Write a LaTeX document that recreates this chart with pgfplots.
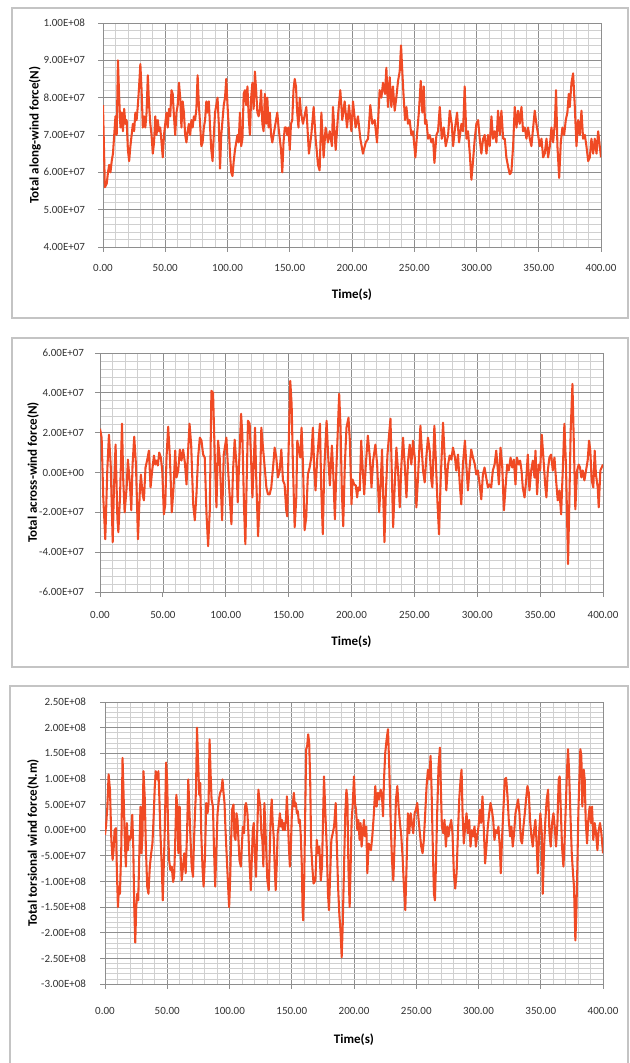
\documentclass[border=0pt]{standalone}
\usepackage{fontspec}
\setmainfont{Carlito}
\usepackage{pgfplots}
\pgfplotsset{compat=1.18}
\definecolor{lineor}{HTML}{F04A24}
\definecolor{majg}{HTML}{8E8E8E}
\definecolor{ming}{HTML}{D0D0D0}
\definecolor{frameg}{HTML}{C4C4C4}
\definecolor{labg}{HTML}{333333}
\pgfplotsset{
  exc/.style={
    scale only axis,
    anchor=south west,
    xmin=0, xmax=400,
    xtick={0,50,100,150,200,250,300,350,400},
    xticklabels={0.00,50.00,100.00,150.00,200.00,250.00,300.00,350.00,400.00},
    scaled x ticks=false, scaled y ticks=false,
    minor x tick num=4,
    minor y tick num=4,
    grid=both,
    major grid style={majg, line width=0.55pt},
    minor grid style={ming, line width=0.5pt},
    axis line style={majg, line width=0.6pt},
    tick style={majg, line width=0.6pt},
    major tick length=3.5pt,
    minor tick length=0pt,
    tick align=outside,
    tick pos=left,
    tick label style={font=\fontsize{8.25}{10}\selectfont, text=labg, inner sep=0pt},
    yticklabel style={anchor=east, xshift=-9.75pt},
    label style={font=\bfseries\fontsize{9.75}{12}\selectfont, text=black},
  },
  ser/.style={color=lineor, line width=1.55pt, line join=round, mark=none, solid},
}
\begin{document}
\begin{tikzpicture}[x=0.75pt,y=0.75pt]
\useasboundingbox (0,0) rectangle (629,1063);
\clip (0,0) rectangle (629,1063);
\fill[white] (0,0) rectangle (629,1063);
\draw[frameg, line width=1pt] (12,745) rectangle (628,1055);
\draw[frameg, line width=1pt] (12,396) rectangle (628,725);
\draw[frameg, line width=1pt] (10,-7) rectangle (628,377);

% ---------------- Along-wind ----------------
\begin{axis}[exc, at={(77.25pt,612pt)},
  width=373.5pt, height=168pt,
  ymin=4e7, ymax=1e8,
  ytick={4e7,5e7,6e7,7e7,8e7,9e7,1e8},
  yticklabels={4.00E+07,5.00E+07,6.00E+07,7.00E+07,8.00E+07,9.00E+07,1.00E+08},
  xticklabel style={anchor=center, yshift=-12.5pt},
  xlabel={Time(s)}, ylabel={Total along-wind force(N)},
  xlabel style={at={(axis description cs:0.5,-0.214)}, anchor=center},
  ylabel style={at={(axis description cs:-0.1365,0.5)}, anchor=center},
]
\addplot[ser] table {
0 7.8e7
1.5 5.6e7
3 5.7e7
4 6.0e7
5 6.2e7
6 6.0e7
7 6.3e7
8 6.5e7
9 7.0e7
10 7.5e7
11 7.0e7
12 9.0e7
13 8.0e7
14 7.2e7
15 7.6e7
16 7.1e7
17 7.7e7
18 7.3e7
19 7.4e7
20 6.6e7
21 6.3e7
22 6.7e7
23 7.0e7
24 7.3e7
25 7.1e7
26 7.6e7
27 7.4e7
28 7.8e7
29 8.3e7
30 8.9e7
31 8.2e7
32 7.2e7
33 7.5e7
34 7.2e7
35 7.6e7
36 8.6e7
37 7.8e7
38 7.3e7
39 7.0e7
40 6.5e7
41 6.8e7
42 7.5e7
43 7.0e7
44 7.4e7
45 7.1e7
46 7.2e7
47 6.8e7
48 6.4e7
49 7.0e7
50 7.3e7
51 7.6e7
52 7.2e7
53 7.7e7
54 7.5e7
55 8.2e7
56 8.1e7
57 7.5e7
58 7.0e7
59 7.6e7
60 7.8e7
61 8.4e7
62 8.0e7
63 7.2e7
64 7.9e7
65 7.6e7
66 7.0e7
67 6.8e7
68 7.1e7
69 7.3e7
70 7.0e7
71 7.4e7
72 7.2e7
73 7.5e7
74 7.4e7
75 7.7e7
76 8.6e7
77 7.8e7
78 7.3e7
79 6.7e7
80 6.8e7
81 7.2e7
82 7.4e7
83 7.9e7
84 7.6e7
85 7.9e7
86 7.2e7
87 6.6e7
88 6.3e7
89 7.0e7
90 7.6e7
91 7.8e7
92 8.0e7
93 7.3e7
94 6.1e7
95 7.0e7
96 7.4e7
97 7.8e7
98 8.0e7
99 8.5e7
100 7.8e7
101 7.2e7
102 6.5e7
103 6.0e7
104 5.9e7
105 6.3e7
106 6.6e7
107 6.8e7
108 7.0e7
109 6.8e7
110 7.6e7
111 6.7e7
112 6.9e7
113 8.1e7
114 8.2e7
115 7.8e7
116 8.3e7
117 7.5e7
118 7.0e7
119 8.0e7
120 8.4e7
121 7.7e7
122 8.7e7
123 8.2e7
124 7.6e7
125 7.5e7
126 7.7e7
127 8.2e7
128 7.3e7
129 7.1e7
130 8.1e7
131 7.3e7
132 8.0e7
133 7.2e7
134 7.6e7
135 7.0e7
136 6.8e7
137 7.0e7
138 7.2e7
139 7.4e7
140 7.6e7
141 7.2e7
142 6.9e7
143 6.6e7
144 6.0e7
145 6.8e7
146 7.2e7
147 7.2e7
148 7.0e7
149 7.2e7
150 6.6e7
151 7.3e7
152 7.4e7
153 8.2e7
154 8.5e7
155 8.3e7
156 7.6e7
157 7.2e7
158 8.0e7
159 7.6e7
160.6 7.3e7
163.3 7.75e7
165.4 6.5e7
167.3 7.0e7
169.2 7.75e7
170.8 6.9e7
172.7 6.2e7
174.0 6.05e7
175.4 7.6e7
177.2 6.4e7
178.8 7.2e7
180.7 6.8e7
182.1 7.1e7
183.9 6.7e7
184.7 7.75e7
186.9 6.6e7
188.7 7.5e7
190.6 8.2e7
192.2 7.4e7
194.1 7.9e7
196.0 7.2e7
197.6 7.8e7
199.5 7.1e7
200.8 7.9e7
202.9 7.2e7
204.8 7.5e7
206.7 6.9e7
208.8 6.5e7
211.0 6.8e7
212.9 6.9e7
214.7 7.8e7
216.3 7.3e7
218.2 7.4e7
220.1 6.8e7
222.2 8.2e7
223.6 8.0e7
224.9 8.4e7
226.5 8.1e7
227.6 8.8e7
228.9 7.75e7
230.3 8.55e7
231.6 7.75e7
232.9 8.3e7
234.3 7.65e7
235.6 8.0e7
237.0 8.45e7
238.3 8.7e7
239.4 9.4e7
240.4 8.7e7
241.5 8.0e7
242.6 7.4e7
243.7 7.75e7
245.0 7.3e7
246.3 7.4e7
247.7 7.0e7
249.0 7.1e7
250.9 6.4e7
252.2 7.0e7
253.8 7.65e7
255.2 8.45e7
256.5 7.6e7
257.6 8.3e7
258.7 7.3e7
259.7 7.4e7
261.1 6.9e7
262.4 7.0e7
263.8 6.8e7
265.1 6.9e7
266.2 6.25e7
267.8 7.0e7
269.1 7.1e7
270.5 7.75e7
272.1 6.9e7
273.7 7.2e7
275.3 6.7e7
277.2 7.0e7
278.5 7.65e7
280.1 7.3e7
281.2 6.7e7
282.8 7.2e7
284.4 7.6e7
286.0 6.8e7
287.9 7.3e7
289.2 7.1e7
290.5 8.3e7
291.9 6.9e7
293.2 7.1e7
294.6 6.5e7
295.9 5.8e7
297.2 6.3e7
298.6 6.9e7
299.9 7.3e7
301.3 7.4e7
302.6 6.9e7
303.9 6.5e7
305.3 6.9e7
306.6 7.0e7
308.0 6.5e7
309.3 7.0e7
310.6 6.7e7
312.0 7.5e7
313.3 6.9e7
314.7 7.1e7
316.0 6.8e7
317.3 7.65e7
318.7 7.0e7
320.0 7.65e7
321.4 6.9e7
322.7 6.9e7
324.0 6.4e7
325.4 6.15e7
326.7 5.95e7
328.0 6.0e7
329.4 6.7e7
330.7 7.75e7
332.1 7.2e7
333.4 7.65e7
334.7 7.3e7
336.1 7.75e7
337.4 7.1e7
338.8 7.2e7
340.1 6.9e7
341.4 7.2e7
342.8 6.9e7
344.1 6.7e7
345.5 7.2e7
346.8 7.65e7
348.1 7.3e7
349.5 7.0e7
350.8 6.7e7
352.2 6.9e7
353.5 6.4e7
354.8 6.5e7
356.2 6.9e7
357.5 6.4e7
358.9 6.7e7
360.2 7.2e7
361.5 6.8e7
362.9 7.3e7
363.9 8.2e7
365.0 6.7e7
366.4 5.85e7
367.7 6.8e7
369.0 7.2e7
370.4 7.0e7
371.7 7.4e7
373.0 7.6e7
374.1 8.1e7
374.9 7.75e7
376.3 8.4e7
377.6 8.65e7
378.9 7.8e7
380.3 6.7e7
381.6 7.4e7
383.0 7.0e7
384.3 7.65e7
385.6 6.9e7
387.0 7.0e7
388.3 6.7e7
389.7 6.3e7
391.0 6.4e7
392.3 6.9e7
393.7 6.5e7
395.0 6.9e7
396.4 6.5e7
397.7 7.1e7
399.0 6.7e7
400 6.4e7
};
\end{axis}

% ---------------- Across-wind ----------------
\begin{axis}[exc, at={(75pt,353.25pt)},
  width=377.25pt, height=179.25pt,
  ymin=-6e7, ymax=6e7,
  ytick={-6e7,-4e7,-2e7,0,2e7,4e7,6e7},
  yticklabels={-6.00E+07,-4.00E+07,-2.00E+07,0.00E+00,2.00E+07,4.00E+07,6.00E+07},
  yticklabel style={xshift=1.5pt},
  xticklabel style={anchor=center, yshift=-13.5pt},
  xlabel={Time(s)}, ylabel={Total across-wind force(N)},
  xlabel style={at={(axis description cs:0.5,-0.208)}, anchor=center},
  ylabel style={at={(axis description cs:-0.1332,0.5)}, anchor=center},
]
\addplot[ser] table {
0 2.2e7
1.3 1.75e7
2.6 -1.25e7
4.2 -3.35e7
5.8 0.1e7
7.1 1.9e7
8.5 0.4e7
10.1 -3.5e7
11.1 -0.75e7
12.4 1.4e7
13.8 -2.25e7
14.6 -3.0e7
15.9 -1.25e7
17.5 2.45e7
18.5 -0.4e7
19.6 -2.0e7
21.2 -0.75e7
22.2 0.65e7
23.8 -0.6e7
24.9 -1.9e7
25.9 0.4e7
27.2 1.8e7
28.6 0.4e7
30.2 -3.35e7
31.7 -0.9e7
32.5 -0.1e7
33.9 -1.1e7
34.9 -1.4e7
36.2 0.25e7
37.6 0.65e7
38.9 1.1e7
40.2 -0.75e7
41.5 0.1e7
42.9 0.85e7
43.9 0.4e7
45.0 0.6e7
46.0 0.35e7
47.1 1.0e7
48.4 0.75e7
49.5 0.1e7
50.8 -2.1e7
51.9 -1.6e7
52.9 0.75e7
54.2 2.3e7
55.6 0.75e7
57.1 -2.0e7
58.5 -0.75e7
59.8 1.1e7
60.8 -0.25e7
62.2 0.1e7
63.5 1.15e7
64.8 0.6e7
66.1 1.15e7
67.5 0.5e7
68.8 -0.6e7
69.8 0.75e7
71.2 2.45e7
72.5 1.4e7
74.1 -1.6e7
75.4 -2.4e7
76.7 -1.1e7
78.0 0.75e7
79.4 1.75e7
80.7 1.6e7
82.0 0.9e7
83.3 0.75e7
84.7 -2.1e7
86.0 -3.7e7
87.3 -1.9e7
88.6 4.1e7
89.9 4.0e7
91.3 0.75e7
92.6 -1.75e7
93.9 1.6e7
95.2 0.75e7
97.1 -2.4e7
98.4 0.9e7
100.5 1.75e7
101.9 0.1e7
103.2 -1.25e7
104.5 -2.6e7
105.8 0.1e7
107.1 1.65e7
108.5 0.4e7
109.5 -1.5e7
110.6 0.4e7
112.2 2.95e7
113.2 1.9e7
114.6 -1.9e7
115.6 -3.6e7
116.7 -0.25e7
117.7 2.6e7
119.0 2.45e7
120.1 0.75e7
121.2 -1.25e7
122.2 0.4e7
123.3 2.25e7
124.3 -0.4e7
125.7 -3.2e7
127.0 -1.25e7
128.3 2.25e7
129.6 1.25e7
131.0 0.25e7
132.3 -0.75e7
133.6 -1.1e7
134.9 -1.1e7
136.2 -0.75e7
137.6 0.25e7
138.9 1.25e7
140.2 0.75e7
141.5 -0.25e7
142.9 0.1e7
144.2 1.15e7
145.5 -0.4e7
146.8 -0.6e7
148.1 -1.9e7
148.9 -2.2e7
149.7 0.4e7
151.3 4.6e7
152.4 3.4e7
153.4 0.4e7
154.8 -2.75e7
156.1 -1.25e7
156.9 1.6e7
158.2 1.15e7
159.3 0.75e7
160.3 2.25e7
161.4 0.4e7
162.7 -2.9e7
164.0 -2.25e7
165.3 -0.1e7
166.7 0.25e7
168.0 0.75e7
169.3 2.25e7
170.4 0.1e7
171.4 -0.9e7
172.8 0.75e7
174.9 2.45e7
175.9 -0.75e7
177.2 -3.1e7
178.3 0.1e7
180.2 2.6e7
181.5 0.75e7
182.8 -0.65e7
184.4 1.35e7
185.4 0.1e7
186.8 -2.35e7
188.1 0.4e7
190.2 3.95e7
191.3 2.25e7
192.3 -0.9e7
193.4 -2.7e7
194.7 0.4e7
196.0 2.25e7
197.6 2.75e7
198.7 1.6e7
200.0 -1.6e7
200.8 -0.35e7
202.1 -0.6e7
203.4 -0.65e7
204.5 -1.25e7
205.3 -0.75e7
206.6 -0.9e7
207.7 1.6e7
208.7 0.4e7
210.1 -1.1e7
211.4 0.4e7
213.0 1.85e7
214.6 0.75e7
215.9 -0.75e7
217.2 0.6e7
219.0 1.4e7
220.4 0.4e7
222.0 -2.0e7
223.3 -0.4e7
224.3 1.15e7
225.1 -0.9e7
226.2 -3.5e7
227.2 -1.25e7
228.6 0.9e7
229.9 1.9e7
231.0 2.7e7
232.0 0.1e7
233.1 -2.75e7
234.4 -0.6e7
235.7 1.25e7
237.0 0.1e7
238.4 -1.75e7
239.7 0.4e7
241.0 1.75e7
242.3 0.4e7
243.7 -1.25e7
245.0 0.6e7
246.3 1.4e7
247.6 0.4e7
248.9 1.6e7
250.3 0.75e7
251.6 -1.75e7
252.9 -0.25e7
254.8 2.35e7
255.8 1.25e7
256.9 0.1e7
258.2 -0.5e7
259.5 0.75e7
260.8 1.75e7
262.2 1.1e7
263.5 -0.4e7
264.3 -0.75e7
265.9 2.35e7
266.9 0.9e7
268.3 -1.4e7
269.6 -3.1e7
270.9 -0.4e7
272.8 2.5e7
274.1 0.75e7
275.4 -0.9e7
276.7 0.35e7
278.0 0.85e7
279.4 0.65e7
280.7 1.25e7
282.3 0.75e7
283.3 0.1e7
284.7 0.9e7
286.0 -0.5e7
287.3 -1.6e7
288.6 0.4e7
290.2 1.6e7
291.3 0.4e7
292.6 -0.9e7
293.9 0.25e7
295.2 1.15e7
296.6 0.75e7
298.1 0.4e7
299.2 -0.1e7
300.5 0.1e7
301.9 -0.6e7
303.2 -1.35e7
304.5 -0.1e7
305.8 0.25e7
307.1 -0.25e7
308.5 -0.75e7
309.8 -0.6e7
311.1 -0.75e7
312.4 0.1e7
313.8 0.4e7
315.1 1.1e7
316.4 0.1e7
317.2 -0.6e7
318.5 1.25e7
319.8 0.4e7
321.2 -1.9e7
322.5 -0.75e7
323.8 0.4e7
325.1 0.1e7
326.5 0.75e7
327.8 0.25e7
329.1 0.65e7
330.4 -0.6e7
331.5 0.75e7
333.1 0.4e7
334.1 0.6e7
335.2 0.1e7
336.2 -0.75e7
337.6 -1.25e7
338.9 -0.4e7
340.2 0.9e7
341.5 -0.9e7
342.9 0.1e7
344.2 0.6e7
345.5 -0.25e7
346.3 1.1e7
347.6 -1.1e7
348.9 0.4e7
350.0 0.1e7
351.3 1.9e7
352.6 0.75e7
354.0 -0.6e7
355.0 -1.25e7
356.1 0.1e7
357.4 0.75e7
358.7 0.9e7
360.1 0.1e7
361.4 0.75e7
362.7 -0.4e7
364.0 -1.4e7
365.3 -0.9e7
366.7 -2.1e7
368.0 0.1e7
369.3 2.45e7
370.6 0.25e7
372.2 -4.6e7
373.3 -1.25e7
374.3 2.1e7
375.7 4.45e7
376.7 1.75e7
378.0 -1.85e7
379.4 0.1e7
380.7 0.4e7
381.7 0.25e7
382.8 -0.25e7
383.9 0.1e7
385.2 -0.4e7
386.5 0.1e7
387.8 0.6e7
388.9 1.6e7
389.9 1.1e7
391.0 -0.4e7
392.3 -0.75e7
393.4 1.1e7
394.4 -0.1e7
395.8 -0.75e7
396.6 -1.75e7
397.9 0.1e7
400 0.4e7
};
\end{axis}

% ---------------- Torsional ----------------
\begin{axis}[exc, at={(78.75pt,59.25pt)},
  width=373.5pt, height=211.5pt,
  ymin=-3e8, ymax=2.5e8,
  ytick={-3e8,-2.5e8,-2e8,-1.5e8,-1e8,-5e7,0,5e7,1e8,1.5e8,2e8,2.5e8},
  yticklabels={-3.00E+08,-2.50E+08,-2.00E+08,-1.50E+08,-1.00E+08,-5.00E+07,0.00E+00,5.00E+07,1.00E+08,1.50E+08,2.00E+08,2.50E+08},
  yticklabel style={xshift=-0.75pt},
  xticklabel style={anchor=center, yshift=-17pt},
  xlabel={Time(s)}, ylabel={Total torsional wind force(N.m)},
  xlabel style={at={(axis description cs:0.5,-0.199)}, anchor=center},
  ylabel style={at={(axis description cs:-0.1446,0.5)}, anchor=center},
]
\addplot[ser] table {
0 -0.09e8
0.8 0.07e8
1.9 0.46e8
2.9 1.09e8
4.0 0.79e8
5.1 -0.19e8
6.1 -0.58e8
6.9 -0.39e8
7.7 0
8.8 0.04e8
9.6 -0.84e8
10.4 -1.5e8
11.2 -1.1e8
12.0 -1.24e8
13.1 -0.32e8
14.1 1.41e8
15.2 0.46e8
16.0 -0.26e8
16.8 -0.71e8
17.6 0.14e8
18.4 -0.39e8
19.2 -0.12e8
20.0 -0.19e8
20.8 -0.12e8
21.9 0.3e8
22.7 -0.32e8
23.5 -1.5e8
24.3 -2.19e8
25.1 -1.5e8
25.9 -1.24e8
26.7 -1.37e8
27.5 -0.52e8
28.5 0.46e8
29.3 -0.45e8
30.1 -0.12e8
30.9 1.15e8
32.0 0.6e8
32.8 -0.32e8
33.9 -1.1e8
34.9 -1.24e8
36.0 -0.71e8
37.1 -0.45e8
38.1 -0.26e8
39.2 0.33e8
40.0 0.86e8
40.8 1.15e8
41.9 0.99e8
42.9 1.15e8
43.7 0.6e8
44.5 -0.06e8
45.6 -0.71e8
46.4 -1.37e8
47.2 -0.71e8
48.0 0
49.1 1.32e8
49.9 0.99e8
50.7 0
51.5 -0.58e8
52.5 -0.78e8
53.6 -0.71e8
54.7 -1.01e8
55.5 -0.91e8
56.3 -0.32e8
57.3 0.69e8
58.1 0.46e8
58.9 -0.45e8
60.0 0.46e8
60.8 -0.52e8
61.6 -0.98e8
62.7 -0.71e8
63.7 -0.45e8
64.8 -0.84e8
65.9 -0.06e8
66.9 0.99e8
67.7 0.46e8
68.5 -0.06e8
69.6 -0.71e8
70.7 -0.91e8
71.5 -0.19e8
72.3 0.33e8
73.1 0.79e8
73.9 2.0e8
74.9 1.25e8
75.7 0.69e8
76.5 0.92e8
77.3 -0.06e8
78.4 -0.78e8
79.2 -1.1e8
80.3 -0.52e8
81.3 0.53e8
82.4 0.33e8
83.2 0.53e8
84.0 1.77e8
84.8 1.12e8
85.6 0.6e8
86.7 0.46e8
87.5 -0.32e8
88.5 -1.1e8
89.3 -0.52e8
90.4 0.33e8
91.5 0.6e8
92.5 0.73e8
93.6 0.79e8
94.4 0.99e8
95.2 0.73e8
96.0 0.53e8
96.8 0
97.9 -0.58e8
98.9 -1.1e8
99.7 -1.5e8
100.5 -0.98e8
101.3 -0.19e8
102.1 0.4e8
103.2 0.5e8
104.0 -0.12e8
104.8 -0.19e8
105.6 0.33e8
106.4 0.2e8
107.2 -0.19e8
108.0 -0.58e8
109.1 -0.71e8
109.9 -0.32e8
110.7 0.07e8
111.7 -0.06e8
112.5 0.46e8
113.3 0.53e8
114.4 0.33e8
115.2 -0.06e8
116.0 -0.58e8
117.1 -1.17e8
117.9 -0.58e8
118.7 0
119.5 0.14e8
120.3 -0.45e8
121.3 -0.91e8
122.1 -0.19e8
123.2 0.79e8
124.0 0.6e8
124.8 0.46e8
125.6 -0.06e8
126.4 -0.19e8
127.2 -0.71e8
128.0 0.53e8
128.8 0.07e8
129.6 -0.45e8
130.4 -0.98e8
131.5 -1.17e8
132.3 -0.45e8
133.1 0.27e8
133.9 0.6e8
134.7 0.14e8
135.5 -0.12e8
136.3 -0.71e8
137.1 -1.17e8
137.9 -0.71e8
138.7 -0.06e8
139.5 0.07e8
140.5 0.33e8
141.3 0.07e8
142.1 0.2e8
142.9 0
143.7 0.14e8
144.5 0
145.3 0.2e8
146.1 0.66e8
146.9 0.2e8
147.7 -0.32e8
148.5 -0.71e8
149.3 -0.32e8
150.1 0.33e8
150.9 0.53e8
151.7 0.73e8
152.5 0.46e8
153.3 0.53e8
154.1 0.33e8
154.9 0.37e8
155.7 0.14e8
156.5 0.2e8
157.3 -0.12e8
158.1 -0.71e8
158.7 -1.56e8
159.2 -1.76e8
160.0 -0.98e8
160.8 0.33e8
161.6 1.58e8
162.4 1.64e8
163.2 1.87e8
164.0 1.71e8
164.8 0.99e8
165.6 -0.32e8
166.7 -0.78e8
167.5 -1.04e8
169.0 -0.98e8
170.1 -0.19e8
171.1 -0.45e8
172.2 -0.32e8
173.3 -0.98e8
174.3 -0.71e8
175.9 1.05e8
177.0 0.33e8
178.1 -0.32e8
179.1 -1.24e8
179.9 -1.56e8
180.7 -0.98e8
181.8 -0.19e8
182.9 -0.06e8
184.0 0.07e8
185.3 0.53e8
186.1 -0.19e8
187.2 -1.1e8
188.2 -1.63e8
189.3 -2.02e8
190.1 -2.48e8
190.9 -1.89e8
192.0 -0.71e8
193.0 0.33e8
193.9 0.79e8
194.7 0.6e8
195.5 -0.71e8
196.5 -1.5e8
197.3 -0.71e8
198.1 0.2e8
198.9 0.46e8
200.0 1.05e8
200.8 0.53e8
201.6 0.4e8
202.7 0
203.5 0.2e8
204.5 -0.19e8
205.3 0.14e8
206.1 -0.32e8
207.0 -0.06e8
208.0 0.2e8
208.8 -0.12e8
209.9 0.07e8
210.7 -0.84e8
211.8 -0.26e8
212.6 -0.32e8
213.6 -0.39e8
214.7 -0.12e8
216.0 0.33e8
217.1 0.86e8
218.2 0.46e8
219.3 0.73e8
220.3 0.6e8
221.4 0.79e8
222.5 0.66e8
223.3 0.27e8
224.1 0.99e8
225.1 1.51e8
226.2 1.77e8
227.3 1.97e8
228.3 1.25e8
229.4 0.2e8
230.5 -0.58e8
231.6 -0.98e8
232.6 -0.26e8
233.7 0.6e8
234.8 0.86e8
235.8 0.46e8
236.9 0.14e8
238.0 -0.12e8
239.0 -0.52e8
240.1 -1.1e8
241.2 -1.56e8
242.2 -0.71e8
243.3 0.33e8
244.4 -0.06e8
245.5 0.33e8
246.5 0.14e8
247.6 -0.06e8
248.7 0.33e8
249.7 0.4e8
250.8 0.53e8
251.9 0.2e8
252.9 -0.06e8
254.0 -0.32e8
255.1 -0.45e8
256.1 -0.19e8
257.2 0.33e8
258.3 0.86e8
259.4 1.18e8
260.4 0.99e8
261.5 1.45e8
262.3 0.79e8
263.1 -0.12e8
264.2 -1.24e8
265.0 -1.37e8
265.8 -0.71e8
266.8 0.33e8
267.9 1.25e8
269.0 1.61e8
269.8 0.79e8
270.6 0.07e8
271.7 -0.06e8
272.7 0.2e8
273.8 -0.32e8
274.9 0.07e8
275.9 -0.12e8
277.0 0.07e8
278.1 0.2e8
279.1 -0.06e8
280.2 -0.84e8
281.3 -1.14e8
282.4 -0.84e8
283.4 -0.12e8
284.5 0.6e8
285.6 0.99e8
286.4 1.18e8
287.2 0.33e8
288.2 -0.26e8
289.3 0.07e8
290.4 0.33e8
291.4 -0.06e8
292.5 0.2e8
293.6 -0.32e8
294.7 0
295.7 -0.12e8
296.8 0.07e8
297.9 -0.32e8
298.9 -0.12e8
300.0 0.07e8
301.1 0.4e8
302.1 0.14e8
303.2 0.66e8
304.3 0
305.3 -0.65e8
306.4 -0.32e8
307.5 0.07e8
308.6 0.33e8
309.6 0.53e8
310.7 0.4e8
311.8 0.2e8
312.8 -0.19e8
313.9 0
315.0 -0.06e8
316.0 0.07e8
317.1 -0.32e8
317.9 -0.84e8
319.0 -0.12e8
320.1 0.46e8
321.1 0.99e8
322.2 1.02e8
323.3 0.66e8
324.3 0.2e8
325.4 -0.12e8
326.5 0.07e8
327.5 -0.32e8
328.6 -0.06e8
329.7 0.33e8
330.7 0.46e8
331.8 0.6e8
332.9 0.33e8
334.0 -0.19e8
335.0 -0.26e8
336.1 0.07e8
337.2 0.33e8
338.2 0.6e8
339.3 0.86e8
340.4 0.73e8
341.4 0.2e8
342.5 -0.12e8
343.6 -0.32e8
344.7 0
345.7 0.2e8
346.8 -0.32e8
347.6 -0.84e8
348.7 -0.06e8
349.7 0.33e8
350.8 -0.06e8
351.6 -1.24e8
352.7 -0.32e8
353.7 0.2e8
354.8 0.6e8
355.9 0.79e8
357.0 -0.06e8
358.0 -0.32e8
359.1 0.14e8
360.2 0.33e8
361.2 0.07e8
362.3 -0.32e8
363.4 0.14e8
364.4 0.99e8
365.2 1.05e8
366.0 0.46e8
367.1 -0.32e8
368.2 -0.71e8
369.0 -0.32e8
370.1 0.46e8
371.1 1.18e8
371.9 1.58e8
372.7 1.18e8
373.8 0.33e8
374.9 -0.45e8
375.9 -0.84e8
376.7 -1.1e8
377.8 -2.15e8
378.6 -1.63e8
379.4 -0.71e8
380.2 0.33e8
381.0 0.99e8
381.8 1.58e8
382.6 1.45e8
383.4 0.46e8
384.5 1.18e8
385.3 0.99e8
386.1 0.2e8
387.2 -0.26e8
388.2 0.2e8
389.3 0.46e8
390.4 0.14e8
391.2 0.46e8
392.2 -0.19e8
393.3 0.14e8
394.4 -0.06e8
395.5 -0.39e8
396.5 0
397.6 0.14e8
398.7 -0.06e8
400 -0.45e8
};
\end{axis}
\end{tikzpicture}
\end{document}
